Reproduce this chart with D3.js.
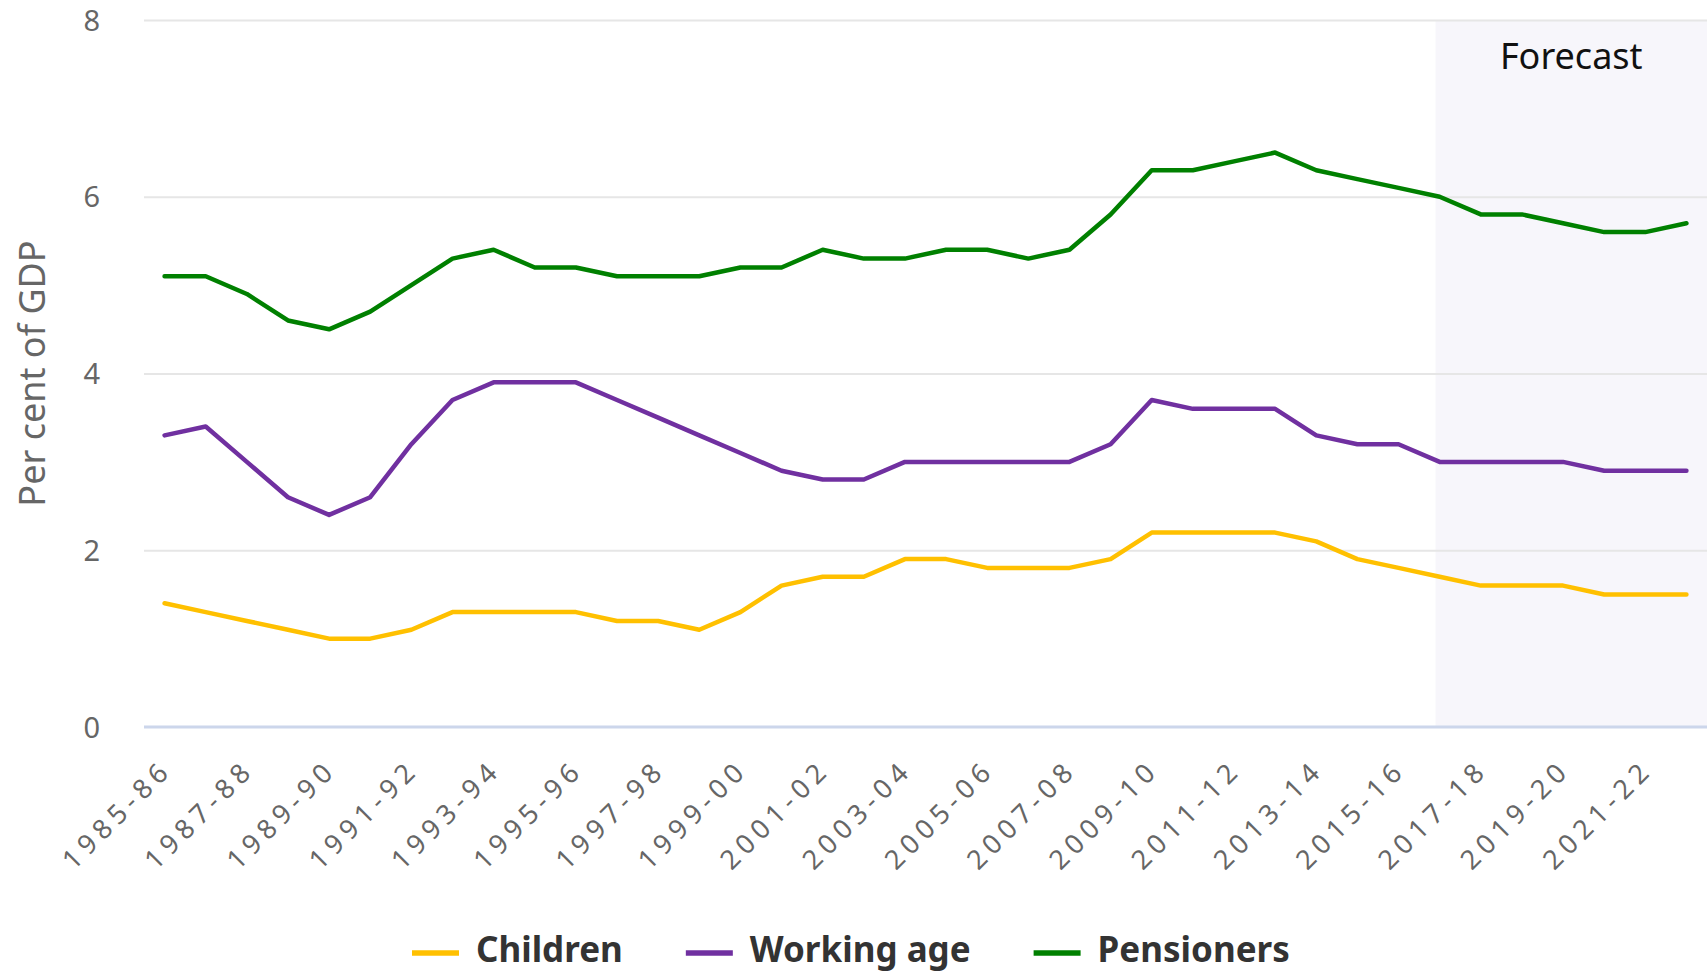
<!DOCTYPE html>
<html>
<head>
<meta charset="utf-8">
<script src="https://cdn.jsdelivr.net/npm/d3@7"></script>
<style>
  html, body { margin: 0; padding: 0; background: #ffffff; }
  svg { display: block; }
</style>
</head>
<body>
<svg id="chart" width="1708" height="973"></svg>
<script>
// ---------------- data ----------------
const categories = [
  "1985-86","1986-87","1987-88","1988-89","1989-90","1990-91","1991-92","1992-93",
  "1993-94","1994-95","1995-96","1996-97","1997-98","1998-99","1999-00","2000-01",
  "2001-02","2002-03","2003-04","2004-05","2005-06","2006-07","2007-08","2008-09",
  "2009-10","2010-11","2011-12","2012-13","2013-14","2014-15","2015-16","2016-17",
  "2017-18","2018-19","2019-20","2020-21","2021-22","2022-23"
];
const children = [
  1.4,1.3,1.2,1.1,1.0,1.0,1.1,1.3,1.3,1.3,1.3,1.2,1.2,1.1,1.3,1.6,1.7,1.7,1.9,
  1.9,1.8,1.8,1.8,1.9,2.2,2.2,2.2,2.2,2.1,1.9,1.8,1.7,1.6,1.6,1.6,1.5,1.5,1.5
];
const workingAge = [
  3.3,3.4,3.0,2.6,2.4,2.6,3.2,3.7,3.9,3.9,3.9,3.7,3.5,3.3,3.1,2.9,2.8,2.8,3.0,
  3.0,3.0,3.0,3.0,3.2,3.7,3.6,3.6,3.6,3.3,3.2,3.2,3.0,3.0,3.0,3.0,2.9,2.9,2.9
];
const pensioners = [
  5.1,5.1,4.9,4.6,4.5,4.7,5.0,5.3,5.4,5.2,5.2,5.1,5.1,5.1,5.2,5.2,5.4,5.3,5.3,
  5.4,5.4,5.3,5.4,5.8,6.3,6.3,6.4,6.5,6.3,6.2,6.1,6.0,5.8,5.8,5.7,5.6,5.6,5.7
];
const seriesNames = ["Children", "Working age", "Pensioners"];
const seriesColors = ["#FFC000", "#7030A0", "#008000"];
const yTicks = [0, 2, 4, 6, 8];
const xTickLabels = categories.filter((d, i) => i % 2 === 0);
const forecastFrom = "2016-17";
const forecastLabel = "Forecast";
const yTitle = "Per cent of GDP";

// ---------------- layout ----------------
const W = 1708, H = 973;
const plot = { left: 144, right: 1707, top: 20, bottom: 727 };

const svg = d3.select("#chart");

const x = d3.scalePoint()
  .domain(categories)
  .range([plot.left, plot.right])
  .padding(0.5);
const step = x.step();

const y = d3.scaleLinear()
  .domain([0, 8])
  .range([plot.bottom, plot.top]);

// forecast band
const bandX = x(forecastFrom) - 0.1 * step;
svg.append("rect")
  .attr("x", bandX)
  .attr("y", plot.top)
  .attr("width", plot.right - bandX)
  .attr("height", plot.bottom - plot.top)
  .attr("fill", "#f7f6fb");

// grid lines
const yAxis = d3.axisLeft(y).tickValues(yTicks).tickSize(0).tickPadding(0);
const gy = svg.append("g").attr("transform", `translate(${plot.left},0)`).call(yAxis);
gy.select(".domain").remove();
gy.selectAll(".tick line")
  .attr("x2", plot.right - plot.left)
  .attr("stroke", "#e6e6e6")
  .attr("stroke-width", 2);
gy.selectAll(".tick text")
  .attr("x", 100 - plot.left)
  .attr("dy", "0.35em")
  .attr("text-anchor", "end")
  .style("font-family", "'Noto Sans', sans-serif")
  .style("font-size", "29px")
  .attr("fill", "#666666");
gy.selectAll(".tick").filter(d => d === 0).select("line").attr("stroke", "none");

// x axis
const xAxis = d3.axisBottom(x)
  .tickValues(xTickLabels)
  .tickSize(0)
  .tickPadding(0);
const gx = svg.append("g").attr("transform", `translate(0,${plot.bottom})`).call(xAxis);
gx.select(".domain").remove();
gx.append("line")
  .attr("x1", plot.left).attr("x2", plot.right)
  .attr("y1", 0).attr("y2", 0)
  .attr("stroke", "#ccd6eb").attr("stroke-width", 3);
gx.selectAll(".tick text")
  .attr("x", 0).attr("y", 0).attr("dy", 0)
  .attr("text-anchor", "end")
  .attr("transform", "translate(4.5,48) rotate(-45)")
  .attr("textLength", 136)
  .attr("lengthAdjust", "spacing")
  .style("font-family", "'Noto Sans', sans-serif")
  .style("font-size", "27px")
  .attr("fill", "#666666");

// y title
svg.append("text")
  .attr("transform", `translate(45,${(plot.top + plot.bottom) / 2}) rotate(-90)`)
  .attr("text-anchor", "middle")
  .style("font-family", "'Noto Sans', sans-serif")
  .style("font-size", "36px")
  .attr("fill", "#666666")
  .text(yTitle);

// forecast label
svg.append("text")
  .attr("x", (bandX + plot.right) / 2)
  .attr("y", 69)
  .attr("text-anchor", "middle")
  .style("font-family", "'Noto Sans', sans-serif")
  .style("font-size", "36px")
  .attr("fill", "#111111")
  .text(forecastLabel);

// lines
const seriesData = [children, workingAge, pensioners];
const line = d3.line()
  .x((d, i) => x(categories[i]))
  .y(d => y(d));
seriesData.forEach((vals, k) => {
  svg.append("path")
    .datum(vals)
    .attr("d", line)
    .attr("fill", "none")
    .attr("stroke", seriesColors[k])
    .attr("stroke-width", 4.5)
    .attr("stroke-linejoin", "round")
    .attr("stroke-linecap", "round");
});

// legend
const legend = svg.append("g");
let lx = 412;
const legendY = 953;
seriesNames.forEach((name, k) => {
  legend.append("line")
    .attr("x1", lx).attr("x2", lx + 47)
    .attr("y1", legendY).attr("y2", legendY)
    .attr("stroke", seriesColors[k])
    .attr("stroke-width", 5.5);
  const t = legend.append("text")
    .attr("x", lx + 64)
    .attr("y", legendY + 9)
    .style("font-family", "'Noto Sans', sans-serif")
    .style("font-size", "35px")
    .style("font-weight", "700")
    .attr("fill", "#333333")
    .text(name);
  const w = t.node().getComputedTextLength();
  lx = lx + 64 + w + 63;
});
</script>
</body>
</html>
